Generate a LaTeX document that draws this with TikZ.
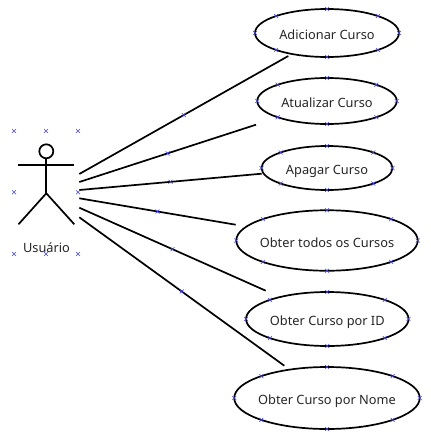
\documentclass[tikz,border=0pt]{standalone}
\usepackage{fontspec}
\setmainfont{Noto Sans}
\usetikzlibrary{shapes.geometric,shapes.misc}
\definecolor{mkblue}{RGB}{70,70,225}
\newcommand{\rotulo}[1]{\makebox[0pt]{\raisebox{-4.9pt}[0pt][0pt]{#1}}}
\tikzset{
  caso/.style={draw=black,line width=1.7*0.75pt,ellipse,inner sep=0pt,outer sep=0pt,font=\fontsize{9.6pt}{11pt}\selectfont,text=black!85},
  lig/.style={draw=black,line width=1.7*0.75pt},
  corpo/.style={draw=black,line width=1.7*0.75pt},
  mk/.style={cross out,draw=mkblue,line width=0.4pt,inner sep=0pt,minimum size=2.6pt,anchor=center},
}
\newcommand{\marcas}[1]{%
  \foreach \a in {north,south,east,west,north east,north west,south east,south west}
    \node[mk] at (#1.\a) {};}
\begin{document}
\begin{tikzpicture}[x=0.75pt,y=-0.75pt]
\useasboundingbox (0,0) rectangle (431,436);
\fill[white] (0,0) rectangle (431,436);
% casos de uso
\node[caso,minimum width=144*0.75pt,minimum height=48*0.75pt] (c1) at (327,33) {\rotulo{Adicionar Curso}};
\node[caso,minimum width=139.5*0.75pt,minimum height=46*0.75pt] (c2) at (327,101) {\rotulo{Atualizar Curso}};
\node[caso,minimum width=131*0.75pt,minimum height=44*0.75pt] (c3) at (327,168) {\rotulo{Apagar Curso}};
\node[caso,minimum width=181.5*0.75pt,minimum height=60.5*0.75pt] (c4) at (327,240.5) {\rotulo{Obter todos os Cursos}};
\node[caso,minimum width=162.5*0.75pt,minimum height=54*0.75pt] (c5) at (327.3,319) {\rotulo{Obter Curso por ID}};
\node[caso,minimum width=185.5*0.75pt,minimum height=62*0.75pt] (c6) at (327,398) {\rotulo{Obter Curso por Nome}};
% ator
\node[circle,draw=black,line width=1.7*0.75pt,minimum size=14*0.75pt,inner sep=0pt] (cabeca) at (46.3,151.3) {};
\coordinate (quadril) at (46.3,193.3);
\coordinate (bracoE) at (18,164.7);
\coordinate (bracoD) at (74.3,164.7);
\coordinate (peE) at (18.5,224.3);
\coordinate (peD) at (74.3,224.3);
\draw[corpo] (cabeca.south) -- (quadril);
\draw[corpo] (bracoE) -- (bracoD);
\draw[corpo] (peE) -- (quadril) -- (peD);
\node[font=\fontsize{9.6pt}{11pt}\selectfont,text=black!85] (usuario) at (46.5,248) {Usuário};
% extremos livres
\coordinate (a1) at (79.3,174);
\coordinate (a2) at (79.3,182);
\coordinate (a3) at (79.3,190);
\coordinate (a4) at (79.3,198.3);
\coordinate (a5) at (79.3,207.7);
\coordinate (a6) at (79.3,217.3);
\coordinate (b1) at (288.3,56);
\coordinate (b2) at (256,124.7);
\coordinate (b3) at (261.7,173.7);
\coordinate (b4) at (235.7,224.7);
\coordinate (b5) at (265.7,290.7);
\coordinate (b6) at (284.3,365.7);
\foreach \i in {1,...,6}{
  \draw[lig] (a\i) -- (b\i) node[mk,midway] {};
}
% marcas
\marcas{c1}\marcas{c2}\marcas{c3}\marcas{c4}\marcas{c5}\marcas{c6}
\foreach \x in {14,46,78}{
  \node[mk] at (\x,131) {};
  \node[mk] at (\x,254) {};
}
\node[mk] at (14,192.3) {};
\node[mk] at (78,192.3) {};
\end{tikzpicture}
\end{document}
